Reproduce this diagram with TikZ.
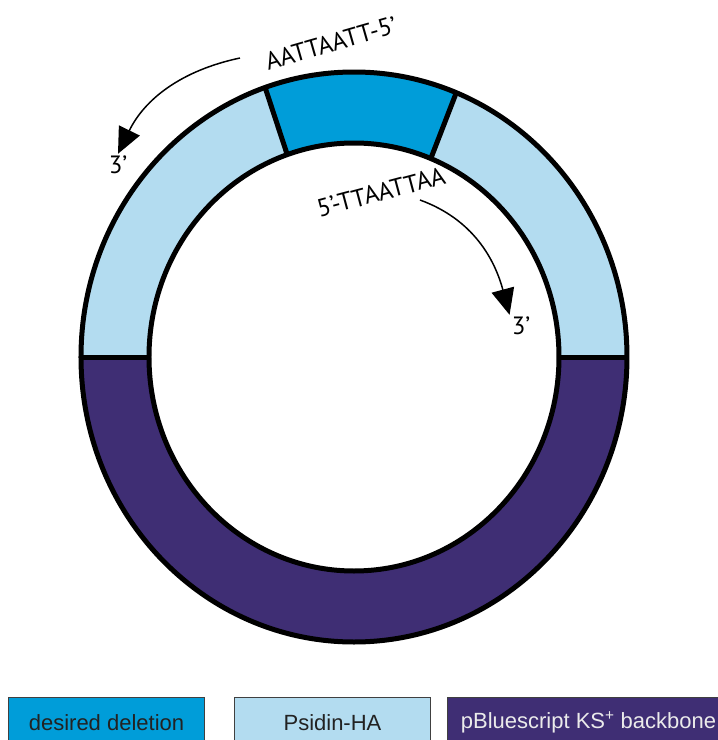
\documentclass[tikz,border=0pt]{standalone}
\usepackage{fontspec}
\setmainfont{Liberation Sans}
\newfontfamily\seqfont{PT Sans}
\usetikzlibrary{arrows.meta}
\definecolor{delblue}{HTML}{009DD9}
\definecolor{hablue}{HTML}{B3DCF0}
\definecolor{bbpurple}{HTML}{3F2E74}
\definecolor{legtext}{HTML}{222222}
\def\rxo{273}
\def\ryo{285}
\def\rxi{205}
\def\ryi{214}
\newcommand{\ringpart}[3]{
  \fill[#3] ({\rxo*cos(#1)},{\ryo*sin(#1)})
    arc[start angle=#1, end angle=#2, x radius=\rxo, y radius=\ryo]
    -- ({\rxi*cos(#2)},{\ryi*sin(#2)})
    arc[start angle=#2, end angle=#1, x radius=\rxi, y radius=\ryi] -- cycle;
}

\begin{document}
\begin{tikzpicture}[x=1pt, y=1pt,
    ring/.style={line width=5pt, black},
    seq/.style={font=\seqfont\fontsize{25}{28}\selectfont, inner sep=2pt},
    strand/.style={line width=1.5pt, -{Triangle[length=26pt, width=23pt]}},
    legbox/.style={draw=black!75, line width=1pt, minimum height=50, anchor=north west,
      font=\fontsize{22}{26}\selectfont}]
    \clip (-354,-383) rectangle (364,357);

    % plasmid ring
    \ringpart{180}{360}{bbpurple}
    \ringpart{109}{180}{hablue}
    \ringpart{68}{109}{delblue}
    \ringpart{0}{68}{hablue}
    \draw[ring] (0,0) ellipse[x radius=\rxo, y radius=\ryo];
    \draw[ring] (0,0) ellipse[x radius=\rxi, y radius=\ryi];
    \foreach \a in {0, 68, 109, 180} {
      \draw[ring] ({\rxi*cos(\a)},{\ryi*sin(\a)}) -- ({\rxo*cos(\a)},{\ryo*sin(\a)});
    }

    % primers
    \node[seq, rotate=16] (top5) at (-23,314) {AATTAATT-5’};
    \node[seq] (top3) at (-236,192) {3’};
    \node[seq, rotate=15] (bot5) at (27,165) {5’-TTAATTAA};
    \node[seq] (bot3) at (167,31) {3’};
    \coordinate (topstart) at (-114,299);
    \coordinate (botstart) at (66,157);
    \draw[strand] (topstart) to[out=192, in=64] (top3.north);
    \draw[strand] (botstart) to[out=-20, in=105] (bot3.north west);

    % legend
    \node[legbox, fill=delblue, text=legtext, minimum width=196] (legdel) at (-346,-340) {desired deletion};
    \node[legbox, fill=hablue, text=legtext, minimum width=196] (legha) at (-120,-340) {Psidin-HA};
    \node[legbox, fill=bbpurple, text=white!92!black, minimum width=282] (legbb) at (93,-340) {pBluescript KS\textsuperscript{+} backbone};
\end{tikzpicture}
\end{document}
